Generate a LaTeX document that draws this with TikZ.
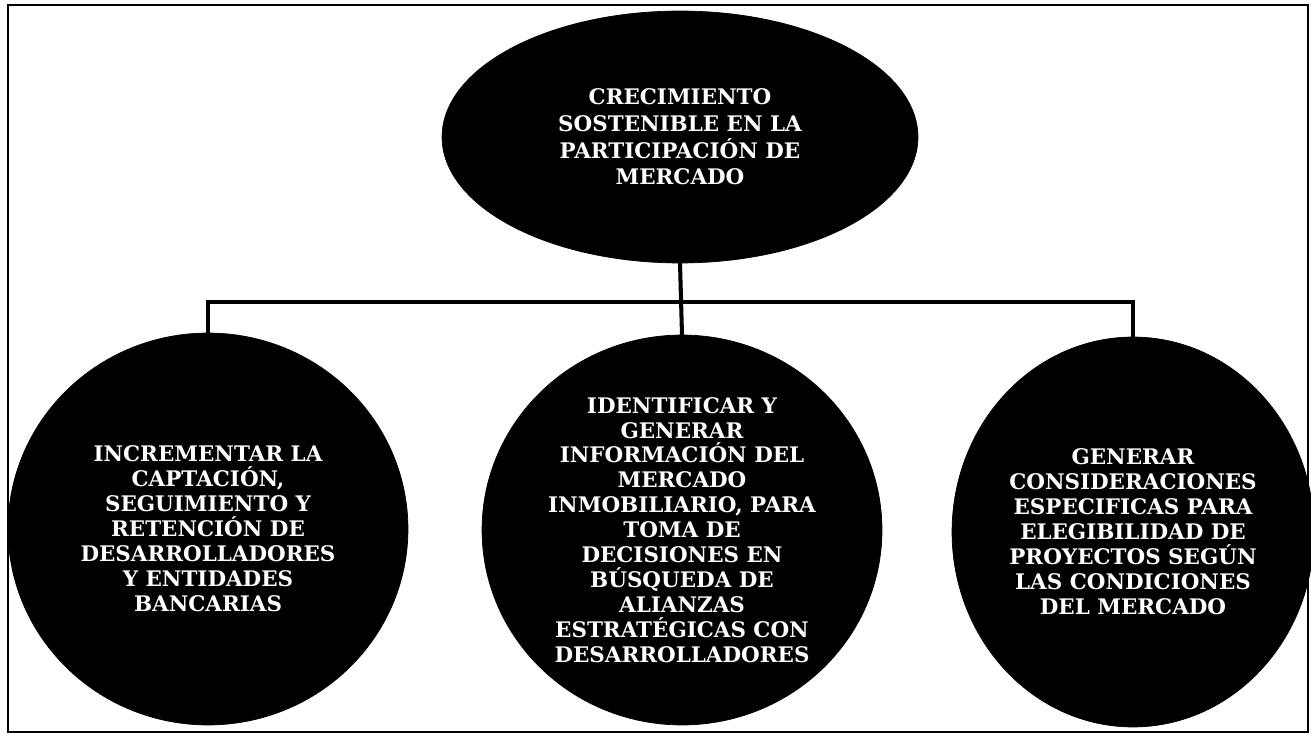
\documentclass[tikz,border=0pt]{standalone}
\usepackage{fontspec}
\setmainfont{DejaVu Serif}
\usetikzlibrary{shapes.geometric}
\begin{document}
\begin{tikzpicture}[x=0.02cm,y=-0.02cm,
  goal/.style={ellipse, fill=black, draw=black, text=white, inner sep=0pt, outer sep=0pt,
    align=center, font=\bfseries\fontsize{12.2}{14.2}\selectfont},
  link/.style={line width=2.3pt},
  frame/.style={line width=1.3pt}]
\useasboundingbox (0,0) rectangle (1311,736);
\draw[frame] (8,5) rectangle (1308,732);
\node[goal, minimum width=9.52cm, minimum height=5.04cm, font=\bfseries\fontsize{12.2}{15.2}\selectfont] (top) at (680,137)
  {CRECIMIENTO\\SOSTENIBLE EN LA\\PARTICIPACIÓN DE\\MERCADO};
\node[goal, minimum width=8cm, minimum height=7.84cm] (L) at (208,529)
  {INCREMENTAR LA\\CAPTACIÓN,\\SEGUIMIENTO Y\\RETENCIÓN DE\\DESARROLLADORES\\Y ENTIDADES\\BANCARIAS};
\node[goal, minimum width=8cm, minimum height=7.8cm] (M) at (682,530)
  {IDENTIFICAR Y\\GENERAR\\INFORMACIÓN DEL\\MERCADO\\INMOBILIARIO, PARA\\TOMA DE\\DECISIONES EN\\BÚSQUEDA DE\\ALIANZAS\\ESTRATÉGICAS CON\\DESARROLLADORES};
\node[goal, minimum width=7.24cm, minimum height=7.8cm] (R) at (1133,532)
  {GENERAR\\CONSIDERACIONES\\ESPECIFICAS PARA\\ELEGIBILIDAD DE\\PROYECTOS SEGÚN\\LAS CONDICIONES\\DEL MERCADO};
\coordinate (bar) at (0,302);
\draw[link] (top.south) -- (M.north);
\draw[link] (L.north) -- (L.north |- bar) -- (R.north |- bar) -- (R.north);
\end{tikzpicture}
\end{document}
